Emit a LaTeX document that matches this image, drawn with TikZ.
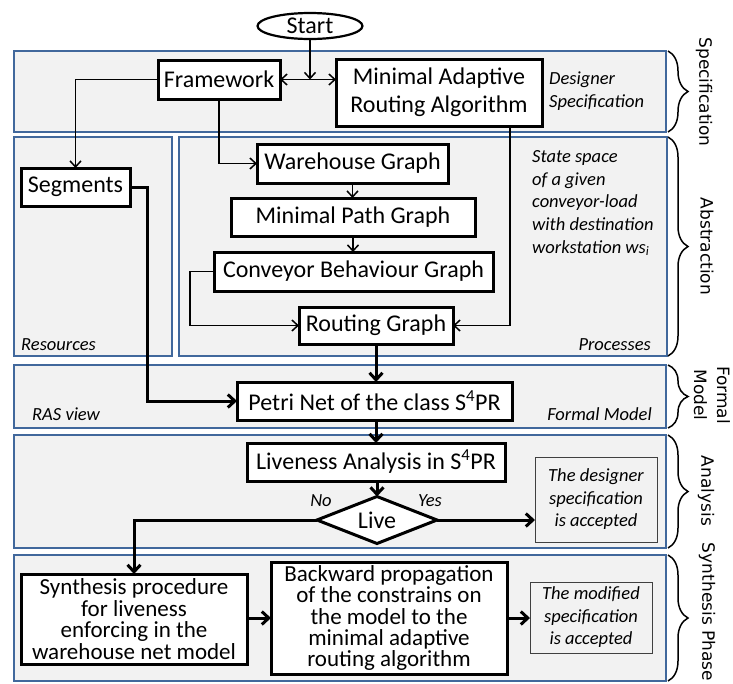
\documentclass[tikz,border=0pt]{standalone}
\usepackage{fontspec}
\setmainfont{Carlito}
\newfontfamily\labelfont{DejaVu Sans}
\usetikzlibrary{shapes.geometric,arrows.meta,decorations.pathreplacing,calc}
\definecolor{panelblue}{RGB}{65,104,156}
\definecolor{panelgray}{RGB}{242,242,242}
\newcommand{\tightlines}{\setlength{\lineskiplimit}{-30pt}}
\begin{document}
\begin{tikzpicture}[x=1pt,y=-1pt,
  panel/.style={draw=panelblue,fill=panelgray,line width=2.8pt,inner sep=0pt,outer sep=0pt,anchor=north west},
  box/.style={draw=black,fill=white,line width=3pt,inner sep=0pt,outer sep=0pt,align=center,
    font={\fontsize{24}{28}\selectfont\tightlines}},
  note/.style={draw=black!75,fill=panelgray,line width=0.9pt,inner sep=0pt,outer sep=0pt,align=center,
    font={\fontsize{18.5}{22.5}\selectfont\itshape\tightlines}},
  lab/.style={font={\fontsize{18.5}{22.5}\selectfont\itshape},inner sep=0pt},
  thinarr/.style={line width=1.5pt,-{Straight Barb[length=6pt,width=11pt]}},
  thickarr/.style={line width=3pt,-{Straight Barb[length=7pt,width=13pt]}},
  brc/.style={decorate,decoration={brace,amplitude=20pt},line width=1.5pt},
  side/.style={font={\labelfont\fontsize{17}{23}\selectfont},rotate=-90,inner sep=0pt,align=center}
]
\useasboundingbox (0,0) rectangle (733,683);

% panels
\node[panel,minimum width=652pt,minimum height=81pt] (pspec) at (14,51) {};
\node[panel,minimum width=158pt,minimum height=219pt] (pres) at (14,137) {};
\node[panel,minimum width=488pt,minimum height=219pt] (pproc) at (179,137) {};
\node[panel,minimum width=652pt,minimum height=63pt] (pform) at (14,365) {};
\node[panel,minimum width=652pt,minimum height=113pt] (pana) at (14,435) {};
\node[panel,minimum width=652pt,minimum height=126pt] (psyn) at (14,555) {};

% braces
\draw[brc] ([xshift=2pt]pspec.north east) -- ([xshift=2pt]pspec.south east);
\draw[brc] ([xshift=1pt]pproc.north east) -- ([xshift=1pt]pproc.south east);
\draw[brc] ([xshift=2pt]pform.north east) -- ([xshift=2pt]pform.south east);
\draw[brc] ([xshift=2pt]pana.north east) -- ([xshift=2pt]pana.south east);
\draw[brc] ([xshift=2pt]psyn.north east) -- ([xshift=2pt]psyn.south east);

% side labels
\node[side] (lspec) at (704,92) {Specification};
\node[side] (labs) at (707,246.5) {Abstraction};
\node[side] (lform) at (712,395) {Formal\\Model};
\node[side] (lana) at (706,491) {Analysis};
\node[side] (lsyn) at (707,612) {Synthesis Phase};

% panel labels
\node[lab,anchor=base west] (des1) at (549,84) {Designer};
\node[lab,anchor=base west] (des2) at (549,107) {Specification};
\node[lab,anchor=base west] (ss1) at (532,162) {State space};
\node[lab,anchor=base west] (ss2) at (532,185) {of a given};
\node[lab,anchor=base west] (ss3) at (532,207.5) {conveyor-load};
\node[lab,anchor=base west] (ss4) at (532,230) {with destination};
\node[lab,anchor=base west] (ss5) at (532,253) {workstation ws\textsubscript{i}};
\node[lab,anchor=base west] (lres) at (21,350) {Resources};
\node[lab,anchor=base east] (lproc) at (651,350) {Processes};
\node[lab,anchor=base west] (lras) at (32,420) {RAS view};
\node[lab,anchor=base east] (lfm) at (652,420) {Formal Model};

% nodes
\node[draw=black,fill=white,ellipse,line width=2.2pt,inner sep=0pt,minimum width=105pt,minimum height=26pt,
  font={\fontsize{24}{28}\selectfont}] (start) at (310,26) {Start};
\node[box,minimum width=122pt,minimum height=39pt] (fw) at (219,79.5) {Framework};
\node[box,minimum width=206pt,minimum height=67pt] (mara) at (439,92.5) {Minimal Adaptive\\Routing Algorithm};
\node[box,minimum width=109pt,minimum height=38pt] (seg) at (75.5,187) {Segments};
\node[box,minimum width=191pt,minimum height=39pt] (wg) at (352.5,163.5) {Warehouse Graph};
\node[box,minimum width=244pt,minimum height=38pt] (mpg) at (353,217) {Minimal Path Graph};
\node[box,minimum width=279pt,minimum height=39pt] (cbg) at (353.5,271.5) {Conveyor Behaviour Graph};
\node[box,minimum width=154pt,minimum height=37pt] (rg) at (376,325.5) {Routing Graph};
\node[box,minimum width=275pt,minimum height=38pt] (pn) at (374.5,401) {Petri Net of the class S\textsuperscript{4}PR};
\node[box,minimum width=258pt,minimum height=38pt] (la) at (376,462) {Liveness Analysis in S\textsuperscript{4}PR};
\node[box,diamond,aspect=2.55,minimum width=120pt,minimum height=47pt] (live) at (377,520) {Live};
\node[lab] (no) at (321,501) {No};
\node[lab] (yes) at (430,501) {Yes};
\node[note,minimum width=122pt,minimum height=85pt] (acc1) at (596,499.5) {The designer\\specification\\is accepted};
\node[box,minimum width=226pt,minimum height=90pt,font={\fontsize{23}{21.5}\selectfont\tightlines}] (syn) at (134,619)
  {Synthesis procedure\\for liveness\\enforcing in the\\warehouse net model};
\node[box,minimum width=236pt,minimum height=112pt,font={\fontsize{23}{21.2}\selectfont\tightlines}] (bw) at (389,618)
  {Backward propagation\\of the constrains on\\the model to the\\minimal adaptive\\routing algorithm};
\node[note,minimum width=122pt,minimum height=71pt] (acc2) at (591,617.5) {The modified\\specification\\is accepted};

% connectors
\coordinate (fork) at (start.south |- fw.east);
\draw[thinarr] (start.south) -- (fork);
\draw[line width=1.5pt,{Straight Barb[length=6pt,width=11pt]}-{Straight Barb[length=6pt,width=11pt]}] (fw.east) -- (fw.east -| mara.west);
\draw[thinarr] (fw.west) -| (seg.north);
\draw[thinarr] (fw.south) |- (wg.west);
\draw[thinarr] (wg.south) -- (wg.south |- mpg.north);
\draw[thinarr] (mpg.south) -- (mpg.south |- cbg.north);
\draw[thinarr] (cbg.west) -- ++(-24,0) |- (rg.west);
\draw[thinarr] ([xshift=71pt]mara.south) |- (rg.east);
\draw[thickarr] (seg.east) -- ++(17,0) |- (pn.west);
\draw[thickarr] (rg.south) -- (rg.south |- pn.north);
\draw[thickarr] (la.north |- pn.south) -- (la.north);
\draw[thickarr] (live.north |- la.south) -- (live.north);
\draw[thickarr] (live.east) -- (live.east -| acc1.west);
\draw[thickarr] (live.west) -| (syn.north);
\draw[thickarr] (syn.east |- bw.west) -- (bw.west);
\draw[thickarr] (bw.east) -- (bw.east -| acc2.west);
\end{tikzpicture}
\end{document}
